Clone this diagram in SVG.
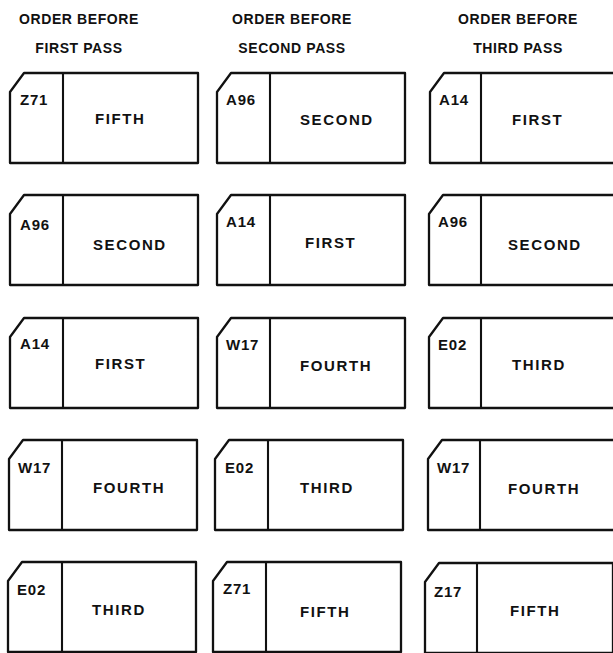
<svg xmlns="http://www.w3.org/2000/svg" width="613" height="653" viewBox="0 0 613 653">
<defs>
<style>
.card{fill:#fff;stroke:#111;stroke-width:2.3;stroke-linejoin:round}
.div{stroke:#111;stroke-width:2.1}
.hdr{font-family:"Liberation Sans",Arial,sans-serif;font-weight:bold;font-size:14px;fill:#111;text-anchor:middle;letter-spacing:0.6px}
.lbl{font-family:"Liberation Sans",Arial,sans-serif;font-weight:bold;font-size:15px;fill:#111;letter-spacing:0.8px}
.txt{font-family:"Liberation Sans",Arial,sans-serif;font-weight:bold;font-size:15px;fill:#111;letter-spacing:1.6px}
</style>
<path id="shape" d="M0,19 L14,0 L188,0 L188,90 L0,90 Z"/>
</defs>
<rect width="613" height="653" fill="#fff"/>
<g id="headers">
<text class="hdr" x="79" y="24">ORDER BEFORE</text>
<text class="hdr" x="79" y="53">FIRST PASS</text>
<text class="hdr" x="292" y="24">ORDER BEFORE</text>
<text class="hdr" x="292" y="53">SECOND PASS</text>
<text class="hdr" x="518" y="24">ORDER BEFORE</text>
<text class="hdr" x="518" y="53">THIRD PASS</text>
</g>
<g id="connectors"></g>

<!-- column 1 -->
<g id="c1r1" transform="translate(10,73)"><use href="#shape" class="card"/><line class="div" x1="53" y1="0" x2="53" y2="90"/><text class="lbl" x="10" y="32">Z71</text><text class="txt" x="85" y="51">FIFTH</text></g>
<g id="c1r2" transform="translate(10,195)"><use href="#shape" class="card"/><line class="div" x1="53" y1="0" x2="53" y2="90"/><text class="lbl" x="10" y="35">A96</text><text class="txt" x="83" y="55">SECOND</text></g>
<g id="c1r3" transform="translate(10,318)"><use href="#shape" class="card"/><line class="div" x1="53" y1="0" x2="53" y2="90"/><text class="lbl" x="10" y="31">A14</text><text class="txt" x="85" y="51">FIRST</text></g>
<g id="c1r4" transform="translate(9,440)"><use href="#shape" class="card"/><line class="div" x1="53" y1="0" x2="53" y2="91"/><text class="lbl" x="9" y="33">W17</text><text class="txt" x="84" y="53">FOURTH</text></g>
<g id="c1r5" transform="translate(8,562)"><use href="#shape" class="card"/><line class="div" x1="54" y1="0" x2="54" y2="90"/><text class="lbl" x="9" y="33">E02</text><text class="txt" x="84" y="53">THIRD</text></g>

<!-- column 2 -->
<g id="c2r1" transform="translate(217,73)"><use href="#shape" class="card"/><line class="div" x1="53" y1="0" x2="53" y2="90"/><text class="lbl" x="9" y="32">A96</text><text class="txt" x="83" y="52">SECOND</text></g>
<g id="c2r2" transform="translate(217,195)"><use href="#shape" class="card"/><line class="div" x1="53" y1="0" x2="53" y2="90"/><text class="lbl" x="9" y="32">A14</text><text class="txt" x="88" y="53">FIRST</text></g>
<g id="c2r3" transform="translate(217,318)"><use href="#shape" class="card"/><line class="div" x1="53" y1="0" x2="53" y2="90"/><text class="lbl" x="9" y="32">W17</text><text class="txt" x="83" y="53">FOURTH</text></g>
<g id="c2r4" transform="translate(215,440)"><use href="#shape" class="card"/><line class="div" x1="53" y1="0" x2="53" y2="90"/><text class="lbl" x="10" y="33">E02</text><text class="txt" x="85" y="53">THIRD</text></g>
<g id="c2r5" transform="translate(213,562)"><use href="#shape" class="card"/><line class="div" x1="53" y1="0" x2="53" y2="90"/><text class="lbl" x="10" y="32">Z71</text><text class="txt" x="87" y="55">FIFTH</text></g>

<!-- column 3 -->
<g id="c3r1" transform="translate(430,73)"><use href="#shape" class="card"/><line class="div" x1="51" y1="0" x2="51" y2="90"/><text class="lbl" x="9" y="32">A14</text><text class="txt" x="82" y="52">FIRST</text></g>
<g id="c3r2" transform="translate(429,195)"><use href="#shape" class="card"/><line class="div" x1="52" y1="0" x2="52" y2="90"/><text class="lbl" x="9" y="32">A96</text><text class="txt" x="79" y="55">SECOND</text></g>
<g id="c3r3" transform="translate(429,318)"><use href="#shape" class="card"/><line class="div" x1="52" y1="0" x2="52" y2="90"/><text class="lbl" x="9" y="32">E02</text><text class="txt" x="83" y="52">THIRD</text></g>
<g id="c3r4" transform="translate(428,440)"><use href="#shape" class="card"/><line class="div" x1="52" y1="0" x2="52" y2="90"/><text class="lbl" x="9" y="33">W17</text><text class="txt" x="80" y="54">FOURTH</text></g>
<g id="c3r5" transform="translate(425,563)"><use href="#shape" class="card"/><line class="div" x1="52" y1="0" x2="52" y2="90"/><text class="lbl" x="9" y="34">Z17</text><text class="txt" x="85" y="53">FIFTH</text></g>
</svg>
